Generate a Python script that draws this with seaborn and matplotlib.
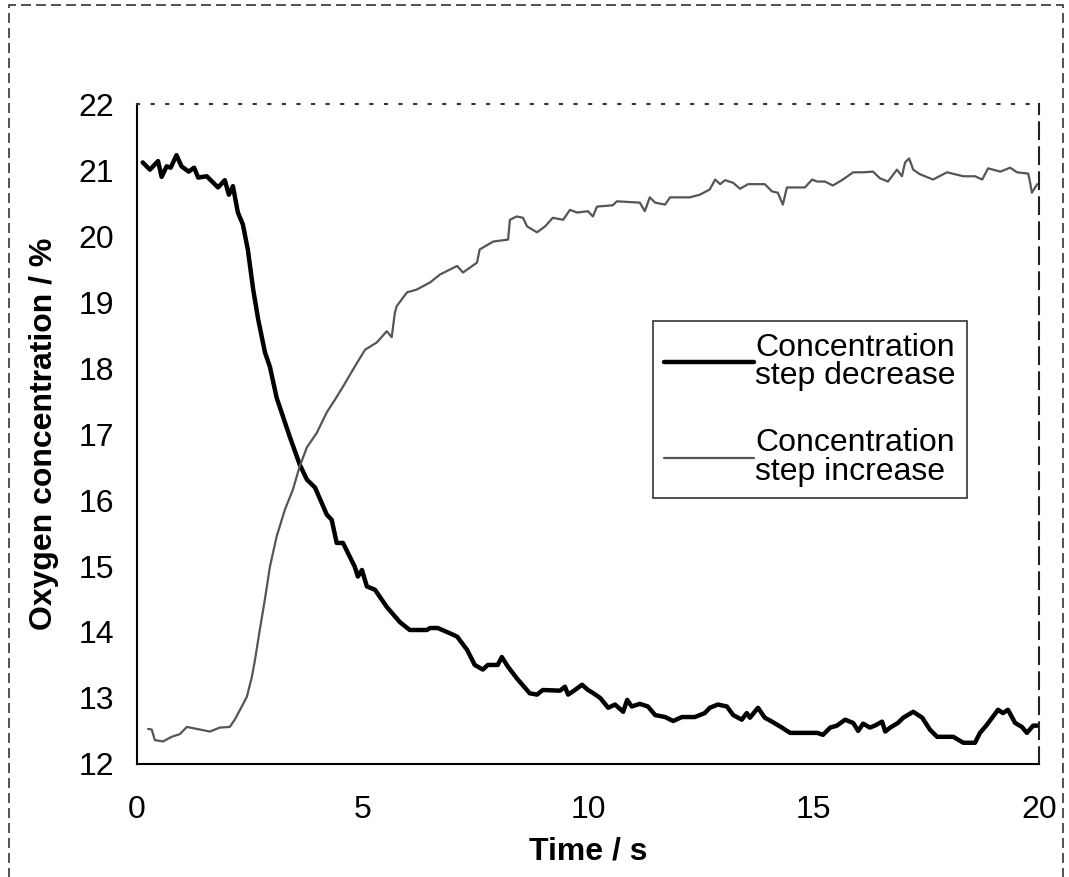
import matplotlib
matplotlib.use('Agg')
import matplotlib.pyplot as plt
import seaborn as sns
import pandas as pd
from matplotlib.patches import Rectangle

# Data
t_dec = [0.13, 0.29, 0.47, 0.55, 0.66, 0.75, 0.88, 0.99, 1.15, 1.27,
         1.36, 1.55, 1.8, 1.95, 2.04, 2.13, 2.24, 2.35, 2.46, 2.58,
         2.69, 2.84, 2.95, 3.1, 3.39, 3.61, 3.77, 3.95, 4.21, 4.32,
         4.43, 4.57, 4.83, 4.9, 4.99, 5.1, 5.28, 5.54, 5.83, 6.05,
         6.43, 6.5, 6.67, 6.94, 7.1, 7.32, 7.49, 7.67, 7.78, 8.0,
         8.09, 8.23, 8.42, 8.71, 8.87, 9.0, 9.38, 9.49, 9.56, 9.67,
         9.87, 10.0, 10.1, 10.27, 10.45, 10.6, 10.78, 10.87, 10.97, 11.15,
         11.33, 11.49, 11.71, 11.89, 12.08, 12.37, 12.59, 12.7, 12.88, 13.08,
         13.22, 13.41, 13.52, 13.59, 13.77, 13.92, 14.08, 14.3, 14.48, 15.08,
         15.21, 15.37, 15.52, 15.7, 15.88, 15.99, 16.1, 16.25, 16.36, 16.52,
         16.59, 16.7, 16.87, 16.99, 17.21, 17.41, 17.58, 17.74, 18.1, 18.32,
         18.58, 18.69, 18.84, 19.09, 19.2, 19.31, 19.47, 19.62, 19.73, 19.87,
         19.98]
c_dec = [21.12, 21.01, 21.14, 20.9, 21.06, 21.04, 21.23, 21.06, 20.98, 21.04,
         20.89, 20.91, 20.74, 20.85, 20.63, 20.76, 20.36, 20.18, 19.8, 19.19,
         18.74, 18.24, 18.02, 17.55, 16.96, 16.54, 16.31, 16.19, 15.78, 15.7,
         15.35, 15.35, 14.99, 14.84, 14.94, 14.69, 14.64, 14.38, 14.15, 14.03,
         14.03, 14.06, 14.06, 13.98, 13.93, 13.73, 13.5, 13.43, 13.5, 13.5,
         13.62, 13.47, 13.3, 13.07, 13.05, 13.12, 13.11, 13.17, 13.05, 13.1,
         13.2, 13.12, 13.08, 13.0, 12.85, 12.9, 12.79, 12.97, 12.87, 12.91,
         12.87, 12.74, 12.71, 12.65, 12.71, 12.71, 12.77, 12.85, 12.9, 12.87,
         12.74, 12.67, 12.77, 12.7, 12.85, 12.7, 12.64, 12.55, 12.47, 12.47,
         12.44, 12.55, 12.58, 12.67, 12.62, 12.5, 12.61, 12.55, 12.58, 12.64,
         12.49, 12.55, 12.62, 12.7, 12.79, 12.7, 12.52, 12.41, 12.41, 12.32,
         12.32, 12.47, 12.59, 12.82, 12.77, 12.82, 12.62, 12.56, 12.47, 12.58,
         12.58]

t_inc = [0.25, 0.33, 0.4, 0.58, 0.77, 0.95, 1.11, 1.33, 1.62, 1.84,
         2.06, 2.17, 2.35, 2.44, 2.55, 2.62, 2.73, 2.84, 2.95, 3.1,
         3.28, 3.46, 3.61, 3.77, 3.99, 4.21, 4.39, 4.57, 4.88, 5.06,
         5.32, 5.54, 5.65, 5.72, 5.76, 5.99, 6.2, 6.5, 6.72, 7.1,
         7.23, 7.54, 7.6, 7.9, 8.23, 8.27, 8.42, 8.56, 8.65, 8.87,
         9.05, 9.22, 9.45, 9.6, 9.76, 10.0, 10.11, 10.2, 10.55, 10.64,
         11.15, 11.26, 11.37, 11.49, 11.71, 11.82, 12.26, 12.48, 12.7, 12.82,
         12.93, 13.04, 13.22, 13.37, 13.55, 13.92, 14.08, 14.21, 14.32, 14.41,
         14.81, 14.97, 15.08, 15.25, 15.43, 15.65, 15.88, 16.1, 16.32, 16.47,
         16.65, 16.85, 16.96, 17.03, 17.12, 17.21, 17.36, 17.65, 17.96, 18.32,
         18.58, 18.74, 18.87, 19.14, 19.36, 19.51, 19.76, 19.8, 19.84, 19.96]
c_inc = [12.53, 12.52, 12.36, 12.34, 12.41, 12.45, 12.56, 12.53, 12.49, 12.55,
         12.56, 12.67, 12.9, 13.02, 13.32, 13.58, 14.05, 14.5, 14.99, 15.45,
         15.85, 16.16, 16.51, 16.8, 17.02, 17.33, 17.52, 17.72, 18.08, 18.28,
         18.39, 18.56, 18.47, 18.84, 18.94, 19.15, 19.19, 19.3, 19.42, 19.55,
         19.45, 19.6, 19.8, 19.92, 19.95, 20.25, 20.3, 20.28, 20.15, 20.06,
         20.15, 20.28, 20.25, 20.4, 20.36, 20.38, 20.3, 20.45, 20.47, 20.53,
         20.51, 20.38, 20.59, 20.51, 20.48, 20.59, 20.59, 20.63, 20.71, 20.86,
         20.79, 20.85, 20.81, 20.72, 20.79, 20.79, 20.68, 20.66, 20.48, 20.74,
         20.74, 20.86, 20.83, 20.83, 20.77, 20.86, 20.97, 20.97, 20.98, 20.88,
         20.83, 21.01, 20.91, 21.12, 21.18, 21.01, 20.94, 20.86, 20.97, 20.91,
         20.91, 20.86, 21.03, 20.98, 21.04, 20.97, 20.95, 20.82, 20.66, 20.79]

label_dec = 'Concentration\nstep decrease'
label_inc = 'Concentration\nstep increase'

sns.set_style('white')
plt.rcParams['font.family'] = ['Liberation Sans', 'DejaVu Sans']
plt.rcParams['text.color'] = 'black'
plt.rcParams['axes.labelcolor'] = 'black'
plt.rcParams['xtick.color'] = 'black'
plt.rcParams['ytick.color'] = 'black'

df_dec = pd.DataFrame({'t': t_dec, 'c': c_dec})
df_inc = pd.DataFrame({'t': t_inc, 'c': c_inc})

fig = plt.figure(figsize=(10.69, 8.77), dpi=100)
ax = fig.add_axes([0.128, 0.129, 0.844, 0.752])

sns.lineplot(data=df_dec, x='t', y='c', ax=ax, color='black', linewidth=3.2,
             label=label_dec, sort=False)
sns.lineplot(data=df_inc, x='t', y='c', ax=ax, color='#555555', linewidth=1.6,
             label=label_inc, sort=False)

ax.set_xlim(0, 20)
ax.set_ylim(12, 22)
ax.set_xticks([0, 5, 10, 15, 20])
ax.set_yticks(range(12, 23))

ax.set_xlabel('Time / s', fontsize=23, fontweight='bold', labelpad=8)
ax.set_ylabel('Oxygen concentration / %', fontsize=23, fontweight='bold', labelpad=14)
ax.tick_params(axis='both', direction='inout', length=13, width=1.3,
               labelsize=23, color='black', labelcolor='black')
ax.tick_params(axis='x', pad=16)
ax.tick_params(axis='y', pad=10)

# plot area border: solid axes, faint top and right edges as in the scan
for s in ['left', 'bottom']:
    ax.spines[s].set_color('black')
    ax.spines[s].set_linewidth(1.5)
ax.spines['top'].set_color('#333333')
ax.spines['top'].set_linestyle((0, (1, 6)))
ax.spines['top'].set_linewidth(1.5)
ax.spines['right'].set_color('#222222')
ax.spines['right'].set_linestyle((0, (8, 4)))
ax.spines['right'].set_linewidth(1.5)

leg = ax.legend(loc='upper left', bbox_to_anchor=(0.572, 0.671), borderaxespad=0,
                fontsize=23, frameon=True, fancybox=False, edgecolor='black',
                handlelength=2.8, handletextpad=0.05, labelspacing=1.15,
                borderpad=0.35)
leg.get_frame().set_linewidth(1.2)
for txt in leg.get_texts():
    txt.set_linespacing(0.95)
    txt.set_color('black')

# dashed outer frame of the chart area
fig.patches.append(Rectangle((9 / 1069, -0.01), (1063 - 9) / 1069, 1.0 - 5 / 877 + 0.01,
                             transform=fig.transFigure, fill=False,
                             edgecolor='#333333', linewidth=1.2,
                             linestyle=(0, (6, 3))))

plt.savefig('out.png', dpi=100)
